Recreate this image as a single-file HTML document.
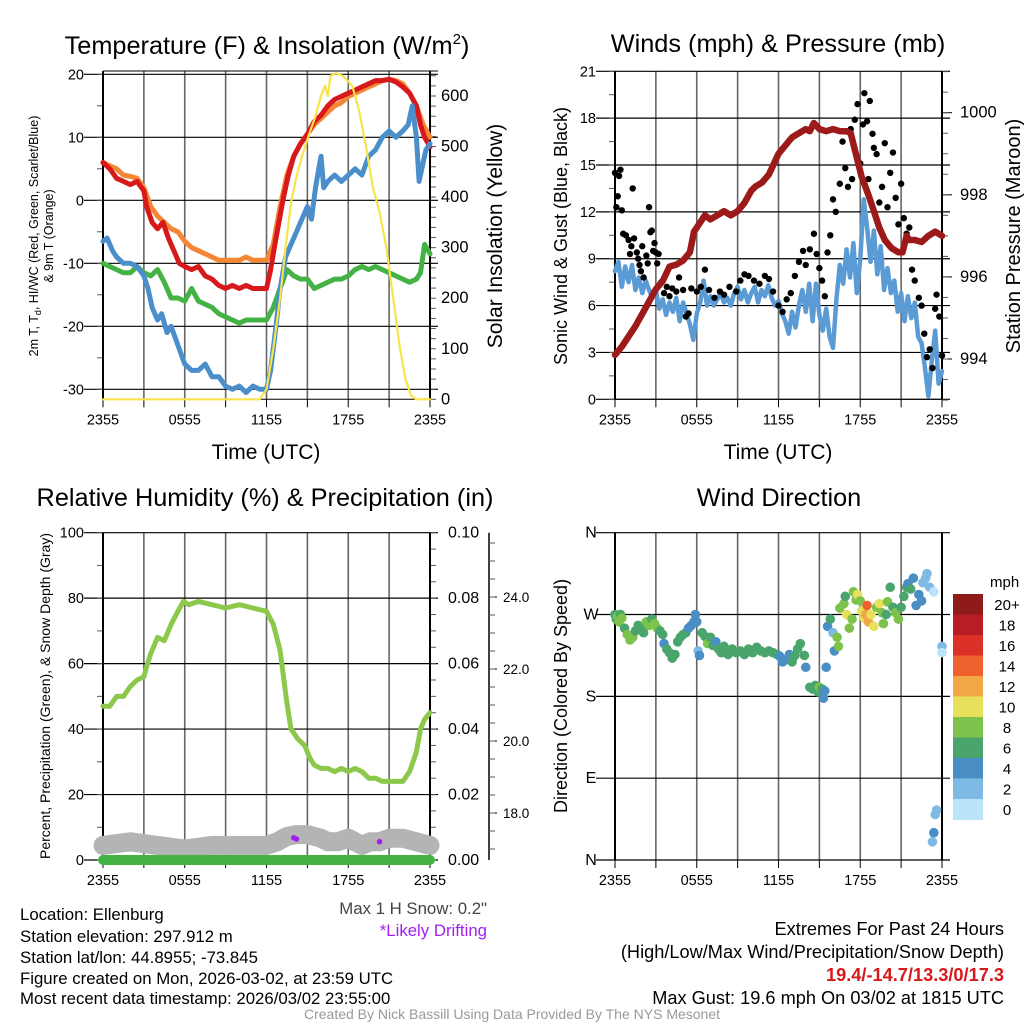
<!DOCTYPE html>
<html><head><meta charset="utf-8"><style>
html,body{margin:0;padding:0;background:#fff;}
svg{display:block;font-family:"Liberation Sans",Arial,sans-serif;}
</style></head><body>
<svg id="fig" width="1024" height="1024" viewBox="0 0 1024 1024" xmlns="http://www.w3.org/2000/svg">
<text x="267" y="54" font-size="25.3" text-anchor="middle">Temperature (F) &amp; Insolation (W/m<tspan font-size="15" dy="-10">2</tspan><tspan dy="10">)</tspan></text>
<text x="778" y="52" font-size="25.3" text-anchor="middle">Winds (mph) &amp; Pressure (mb)</text>
<text x="265" y="506" font-size="25.3" text-anchor="middle">Relative Humidity (%) &amp; Precipitation (in)</text>
<text x="779" y="506" font-size="25.3" text-anchor="middle">Wind Direction</text>
<text x="266" y="459" font-size="21" text-anchor="middle">Time (UTC)</text>
<text x="778" y="459" font-size="21" text-anchor="middle">Time (UTC)</text>
<text transform="translate(38,236) rotate(-90)" font-size="12.5" text-anchor="middle"><tspan x="0" dy="0">2m T, T<tspan font-size="9" dy="3">d</tspan><tspan dy="-3">, HI/WC (Red, Green, Scarlet/Blue)</tspan></tspan><tspan x="0" dy="15">&amp; 9m T (Orange)</tspan></text>
<text transform="translate(502,236) rotate(-90)" font-size="21" text-anchor="middle">Solar Insolation (Yellow)</text>
<text transform="translate(567,236) rotate(-90)" font-size="18" text-anchor="middle">Sonic Wind &amp; Gust (Blue, Black)</text>
<text transform="translate(1020,236) rotate(-90)" font-size="20" text-anchor="middle">Station Pressure (Maroon)</text>
<text transform="translate(50,696) rotate(-90)" font-size="14" text-anchor="middle">Percent, Precipitation (Green), &amp; Snow Depth (Gray)</text>
<text transform="translate(567,696) rotate(-90)" font-size="18" text-anchor="middle">Direction (Colored By Speed)</text>
<g font-size="16.8">
<text x="20" y="920">Location: Ellenburg</text>
<text x="20" y="942">Station elevation: 297.912 m</text>
<text x="20" y="963">Station lat/lon: 44.8955; -73.845</text>
<text x="20" y="984">Figure created on Mon, 2026-03-02, at 23:59 UTC</text>
<text x="20" y="1004">Most recent data timestamp: 2026/03/02 23:55:00</text>
</g>
<text x="487" y="914" font-size="16.8" fill="#444" text-anchor="end">Max 1 H Snow: 0.2"</text>
<text x="487" y="936" font-size="16.8" fill="#a020f0" text-anchor="end">*Likely Drifting</text>
<g font-size="18.2" text-anchor="end">
<text x="1004" y="935">Extremes For Past 24 Hours</text>
<text x="1004" y="958">(High/Low/Max Wind/Precipitation/Snow Depth)</text>
<text x="1004" y="981" fill="#d7191c" font-weight="bold">19.4/-14.7/13.3/0/17.3</text>
<text x="1004" y="1004">Max Gust: 19.6 mph On 03/02 at 1815 UTC</text>
</g>
<text x="512" y="1019" font-size="14" fill="#999" text-anchor="middle">Created By Nick Bassill Using Data Provided By The NYS Mesonet</text>
</svg>
<script>
// ---------- data ----------
const xTickLabels = ["2355","0555","1155","1755","2355"];
const tempRedH = [0,0.5,1,1.5,2,2.5,3,3.2,3.6,4,4.4,4.8,5.2,5.6,6,6.5,7,7.5,8,8.5,9,9.5,10,10.5,11,11.5,12,12.3,12.7,13.2,13.6,14,14.5,15,15.5,16,16.5,17,17.5,18,18.5,19,19.5,20,20.5,21,21.5,22,22.5,23,23.3,23.6,24];
const tempRed = [6,5,3.5,3,2.5,3,1.5,-1,-3.5,-4.5,-3.5,-6,-8,-10,-10.5,-11,-10.5,-12,-12.5,-13.5,-14,-13.5,-14,-13.5,-14,-14,-14,-11,-6,0,4,7,9,10.5,12.5,13.5,15,16,16.5,17,17.5,18,18.5,19,19,19.2,18.8,18,17,15,12,10,8.5];
const tempOrangeH = [0,0.5,1,1.5,2,2.5,3,3.5,4,4.5,5,5.5,6,6.5,7,7.5,8,8.5,9,9.5,10,10.5,11,11.5,12,12.5,13,13.5,14,14.5,15,15.5,16,16.5,17,17.5,18,18.5,19,19.5,20,20.5,21,21.5,22,22.5,23,23.5,24];
const tempOrange = [6,5.5,5,4,3.8,3.5,2,-1,-2.5,-3.5,-4.5,-5,-6.5,-7.5,-8,-8.5,-9,-9.5,-9.5,-9.5,-9.5,-9,-9.5,-9.5,-9.5,-7,-1,4,7,9,10.5,12,13,14,15,15.5,16.5,17,17.5,18,18.5,19,19.2,19,18.5,17,15,12,10];
const dewH = [0,0.5,1,1.5,2,2.5,3,3.5,4,4.5,5,5.5,6,6.5,7,7.5,8,8.5,9,9.5,10,10.5,11,11.5,12,12.5,13,13.5,14,14.5,15,15.5,16,16.5,17,17.5,18,18.5,19,19.5,20,20.5,21,21.5,22,22.5,23,23.3,23.6,24];
const dewPt = [-10,-10.5,-11,-11.5,-11.5,-10.5,-11.5,-12,-11,-13,-15.5,-15.5,-16,-14,-16,-16.5,-17,-18,-18.5,-19,-19.5,-19,-19,-19,-19,-17,-14,-11,-12,-12.5,-12.5,-14,-13.5,-13,-12.5,-12.5,-12,-11,-10.5,-11,-10.5,-11,-11.5,-12,-12.5,-13,-12.5,-11.5,-7,-8.5];
const windChillH = [0,0.3,0.7,1,1.5,2,2.5,3,3.3,3.6,4,4.3,4.7,5,5.5,6,6.5,7,7.5,8,8.5,9,9.5,10,10.5,11,11.5,12,12.3,12.7,13,13.4,13.8,14.2,14.6,15,15.3,15.6,16,16.2,16.5,17,17.5,18,18.5,19,19.5,20,20.5,21,21.5,22,22.4,22.7,23,23.2,23.4,23.7,24];
const windChill = [-6.5,-6,-8,-9,-10,-10,-10.5,-12,-14,-17,-19,-18,-21,-20,-23,-26,-27,-27,-26,-28,-28,-29.5,-30,-29.5,-30.5,-29.5,-30,-30,-27,-20,-14,-9,-7,-5,-3,-1,-3,2,7,2,3,4,3,4,5,4,7,8,10,11,10,11,12,15,10,3,5,8,9];
const solarH = [0,11.5,12,12.5,13,13.4,13.8,14.2,14.6,15.2,15.6,16,16.3,16.5,16.7,17.1,17.6,18.3,18.8,19.3,19.8,20.3,20.8,21.3,21.8,22.2,22.6,23,24];
const solar = [0,0,20,100,200,300,390,440,480,530,560,600,620,600,640,645,640,620,570,500,420,370,300,200,100,40,8,0,0];
const windH = [0,0.25,0.5,0.75,1,1.25,1.5,1.75,2,2.25,2.5,2.75,3,3.25,3.5,3.75,4,4.25,4.5,4.75,5,5.25,5.5,5.75,6,6.25,6.5,6.75,7,7.25,7.5,7.75,8,8.25,8.5,8.75,9,9.25,9.5,9.75,10,10.25,10.5,10.75,11,11.25,11.5,11.75,12,12.25,12.5,12.75,13,13.25,13.5,13.75,14,14.25,14.5,14.75,15,15.25,15.5,15.75,16,16.25,16.5,16.75,17,17.25,17.5,17.75,18,18.25,18.5,18.75,19,19.25,19.5,19.75,20,20.25,20.5,20.75,21,21.25,21.5,21.75,22,22.25,22.5,22.75,23,23.25,23.5,23.75,24];
const windSpd = [8.2,8.8,7.2,8.5,7.5,8.6,7.0,7.8,6.8,7.6,7.0,6.5,7.0,5.8,6.4,5.4,6.2,5.6,6.5,5.0,6.2,5.5,4.8,3.8,5.5,6.2,7.6,6.0,6.6,6.0,6.4,6.8,6.2,6.5,6.0,6.8,7.2,6.4,7.0,6.2,6.8,7.2,6.2,7.0,6.6,7.3,6.5,6.0,6.3,5.5,5.0,4.2,5.6,4.6,6.0,7.0,5.6,7.4,5.0,7.4,5.4,4.4,5.8,4.0,3.3,6.4,8.6,7.4,9.6,7.8,10.0,6.8,9.0,12.8,11.0,8.8,10.8,8.0,9.8,7.0,8.4,6.8,7.6,5.6,6.8,5.0,6.6,5.2,6.2,4.0,3.6,2.0,0.2,2.5,4.4,1.0,1.8];
const gustH = [0,0.1,0.2,0.3,0.4,0.5,0.6,0.8,1.0,1.1,1.2,1.3,1.4,1.6,1.7,1.8,1.9,2.0,2.1,2.3,2.4,2.5,2.6,2.7,2.8,2.9,3.0,3.1,3.2,3.4,3.6,3.8,4.0,4.2,4.5,4.7,5.0,5.2,5.4,5.6,6.0,6.3,6.6,6.9,7.3,7.7,8.0,8.4,8.9,9.2,9.5,9.8,10.2,10.6,11.0,11.3,11.6,12.0,12.3,12.6,12.9,13.2,13.5,13.8,14.0,14.3,14.6,14.8,15.0,15.2,15.4,15.6,15.8,16.0,16.2,16.5,16.7,16.9,17.1,17.3,17.4,17.6,17.8,18.0,18.2,18.3,18.5,18.6,18.7,18.9,19.0,19.2,19.4,19.6,19.8,20.0,20.2,20.4,20.6,20.8,21.0,21.2,21.4,21.6,21.8,22.0,22.3,22.5,22.7,22.9,23.1,23.3,23.5,23.6,23.8,24.0];
const gustSpd = [14.5,12.3,13,14.3,14.7,12.1,10.6,10.5,10.2,9.3,9.8,13.5,10.3,9.4,9.0,8.6,8.2,9.8,7.8,9.2,8.7,12.3,10.7,10.8,9.5,10.0,9.4,8.7,9.3,7.5,6.8,7.2,6.6,7.1,6.9,7.8,7.0,5.3,5.5,7.1,6.9,7.2,8.3,7.0,6.5,6.9,6.7,7.2,6.9,7.6,8.0,7.9,7.6,7.4,7.9,7.7,6.9,6.0,5.6,6.4,6.8,7.9,8.8,9.5,8.6,9.6,10.6,9.3,8.4,7.6,6.6,9.4,10.5,12.8,12.0,13.8,16.5,14.8,13.6,17.3,14.1,17.9,18.9,15.1,17.6,19.6,17.8,14.1,19.1,17.0,16.1,15.7,12.6,13.6,16.4,12.3,14.5,15.8,12.9,11.2,13.8,11.6,10.6,11.0,8.3,7.6,6.5,6.0,4.2,2.7,3.2,2.0,5.8,6.7,5.3,2.8];
const presH = [0,0.5,1,1.5,2,2.5,3,3.5,4,4.5,5,5.5,5.8,6.2,6.6,7,7.5,8,8.5,9,9.5,10,10.3,10.8,11.3,12,12.5,13,13.5,14,14.3,14.6,15,15.5,16,16.5,17,17.3,17.6,18.1,18.6,19,19.4,19.8,20.3,20.8,21.1,21.4,21.6,22,22.5,23,23.5,24];
const pressure = [994.1,994.3,994.55,994.8,995.1,995.4,995.7,995.9,996.25,996.3,996.4,996.6,997.1,997.3,997.5,997.4,997.5,997.6,997.5,997.6,997.8,998.1,998.2,998.3,998.5,999.0,999.2,999.4,999.5,999.6,999.55,999.75,999.6,999.55,999.6,999.55,999.55,999.5,999.1,998.44,998.0,997.6,997.2,996.9,996.7,996.6,996.6,997.0,996.9,996.9,996.85,997.0,997.1,997.0];
const rhH = [0,0.5,1,1.5,2,2.5,3,3.2,3.5,4,4.5,5,5.5,5.9,6.3,7,8,9,10,11,12,12.5,13,13.5,13.8,14.3,14.8,15.2,15.5,16,16.5,17,17.5,18,18.5,19,19.5,20,20.5,21,21.5,22,22.5,23,23.3,23.6,24];
const rh = [47,47,50,50,53,55,56,59,63,68,67,72,76,79,78,79,78,77,78,77,76,72,64,48,40,37,35,31,29,28,28,27,28,27,28,27,25,25,24,24,24,24,27,33,40,43,45];
const snowH = [0,2,4,6,8,10,12,12.8,13.5,14.2,15,16,16.5,17.2,18,18.5,19,19.6,20.3,21,22,23,24];
const snowDepth = [17.1,17.2,17.1,17.0,17.1,17.1,17.1,17.2,17.35,17.4,17.4,17.3,17.2,17.2,17.3,17.2,17.1,17.2,17.2,17.3,17.3,17.2,17.1];
const precipH = [0,24];
const precip = [0,0];
const driftH = [14.0,14.2,20.3];
const driftVal = [0.0068,0.0064,0.0056];
const dirH = [0,0.1,0.2,0.3,0.4,0.5,0.7,0.9,1.1,1.3,1.5,1.7,1.9,2.1,2.3,2.5,2.7,2.9,3.1,3.3,3.5,3.6,3.8,4.0,4.2,4.4,4.6,4.8,5.0,5.2,5.4,5.6,5.8,5.9,6.0,6.1,6.2,6.4,6.6,6.8,7.0,7.2,7.4,7.6,7.8,8.0,8.3,8.6,8.9,9.2,9.5,9.8,10.1,10.4,10.7,11.0,11.3,11.6,11.9,12.1,12.3,12.5,12.8,13.0,13.2,13.4,13.6,13.9,14.0,14.3,14.5,14.7,14.9,15.0,15.2,15.3,15.4,15.5,15.6,15.8,16.0,16.1,16.3,16.4,16.5,16.8,16.9,17.0,17.2,17.4,17.5,17.7,17.8,18.0,18.1,18.3,18.4,18.5,18.6,18.8,19.0,19.2,19.4,19.6,19.7,19.9,20.0,20.2,20.4,20.6,20.8,21.0,21.2,21.4,21.5,21.7,21.9,22.1,22.3,22.5,22.6,22.8,22.9,23.1,23.4,23.3,23.4,23.5,23.6,24,24];
const dirDeg = [270,265,268,262,270,266,255,248,242,245,252,258,255,250,262,258,265,260,255,252,248,238,232,228,222,226,240,245,248,250,255,258,262,270,262,230,225,250,246,238,245,236,240,232,228,235,226,232,228,230,226,232,228,234,230,228,230,228,226,224,218,220,226,218,225,232,238,225,212,190,188,192,185,190,188,178,186,212,257,265,250,230,245,235,277,282,290,270,255,265,295,286,292,285,274,266,270,280,262,270,257,278,282,272,260,270,284,300,278,272,265,278,290,300,304,298,310,280,292,285,305,310,315,300,295,20,30,50,55,235,228];
const dirSpd = [6,6,8,8,6,8,6,8,8,8,6,6,6,6,8,8,6,8,8,6,6,4,6,6,6,6,6,6,6,6,4,4,4,4,4,2,4,6,6,8,6,6,4,6,6,6,6,6,6,6,6,6,6,6,6,6,6,6,6,4,4,4,4,6,6,6,6,6,4,6,6,6,6,8,6,4,4,4,4,6,2,4,8,8,8,8,6,10,8,8,8,8,10,8,10,10,12,14,12,10,10,8,10,8,8,6,8,6,6,8,8,6,6,6,4,6,4,4,4,4,2,2,2,2,0,2,4,2,2,2,0];
const speedBins = ["0","2","4","6","8","10","12","14","16","18","20+"];
const speedColors = ["#bce4f8","#7fbae4","#4a8ec6","#49a56c","#7dc24a","#e6e05a","#f4a746","#ef622d","#db3129","#b81d25","#8e1a1a"];
const tempTicks = [-30,-20,-10,0,10,20];
const solarTicks = [0,100,200,300,400,500,600];
const windTicks = [0,3,6,9,12,15,18,21];
const presTicks = [994,996,998,1000];
const rhTicks = [0,20,40,60,80,100];
const precipTicks = ["0.00","0.02","0.04","0.06","0.08","0.10"];
const snowTicks = ["18.0","20.0","22.0","24.0"];
const dirTicks = ["N","E","S","W","N"];

// ---------- helpers ----------
const NS = "http://www.w3.org/2000/svg";
const svg = document.getElementById("fig");
function mk(tag, attrs, parent) {
  const e = document.createElementNS(NS, tag);
  for (const k in attrs) e.setAttribute(k, attrs[k]);
  (parent || svg).appendChild(e);
  return e;
}
function lin(d0, d1, r0, r1) { return v => r0 + (v - d0) * (r1 - r0) / (d1 - d0); }
function pathD(xs, ys, fx, fy) { return xs.map((h, i) => (i ? "L" : "M") + fx(h).toFixed(1) + "," + fy(ys[i]).toFixed(1)).join(""); }
function binColor(s) { return speedColors[Math.min(10, Math.max(0, Math.round(s / 2)))]; }

function panelFrame(name, L, R, T, B, fx) {
  const g = mk("g", {});
  
  
  for (let h = 3; h < 24; h += 3) {
    const gl = mk("line", {x1: fx(h), x2: fx(h), y1: T, y2: B, stroke: "#666", "stroke-width": 1.6}, g);
    
    
  }
  for (let h = 0; h <= 24; h += 3) {
    const tk = mk("line", {x1: fx(h), x2: fx(h), y1: B, y2: B + 8, stroke: "#000", "stroke-width": 1}, g);
    
    
  }
  xTickLabels.forEach((lab, i) => {
    const t = mk("text", {x: fx(i * 6), y: B + 25, "font-size": 14.5, "text-anchor": "middle"}, g);
    t.textContent = lab;
    
    
  });
  return g;
}
function hLines(g, vals, fy, L, R) {
  vals.forEach(v => {
    const l = mk("line", {x1: L - 19, x2: R + 8, y1: fy(v), y2: fy(v), stroke: "#000", "stroke-width": 1.2}, g);
    
    
  });
}
function axisLabels(g, vals, labels, fy, x, anchor, size) {
  vals.forEach((v, i) => {
    const t = mk("text", {x: x, y: fy(v) + 5, "font-size": size || 14.5, "text-anchor": anchor}, g);
    t.textContent = labels[i];
    
    
  });
}
function minorTicks(g, from, to, step, fy, x, dir) {
  for (let v = from; v <= to + 1e-9; v += step) {
    const l = mk("line", {x1: x, x2: x + dir * 6, y1: fy(v), y2: fy(v), stroke: "#555", "stroke-width": 1}, g);
    
    
  }
}
function box(g, L, R, T, B) {
  const a = mk("line", {x1: L, x2: L, y1: T, y2: B, stroke: "#000", "stroke-width": 2}, g);
  
  
  const b = mk("line", {x1: R, x2: R, y1: T, y2: B, stroke: "#000", "stroke-width": 2}, g);
  
  
  const c = mk("line", {x1: L, x2: R, y1: B, y2: B, stroke: "#000", "stroke-width": 1}, g);
  
  
}
function series(d, color, w, name) {
  const p = mk("path", {d: d, fill: "none", stroke: color, "stroke-width": w, "stroke-linejoin": "round", "stroke-linecap": "round"});
  
  
  return p;
}

// ---------- panel 1: temperature ----------
{
  const L = 103, R = 430, T = 71, B = 399.3;
  const fx = lin(0, 24, L, R);
  const fy = lin(0, -30, 200.3, 389.3);
  const fs = lin(0, 600, 399.3, 96);
  const g = panelFrame("temperature", L, R, T, B, fx);
  hLines(g, tempTicks, fy, L, R);
  const top = mk("line", {x1: L, x2: R + 8, y1: T, y2: T, stroke: "#000", "stroke-width": 1}, g);
  
  
  axisLabels(g, tempTicks, tempTicks.map(String), fy, 84, "end");
  minorTicks(g, -30, 20, 5, fy, L, -1);
  axisLabels(g, solarTicks, solarTicks.map(String), fs, 441, "start", 16.5);
  minorTicks(g, 0, 640, 20, fs, R, 1);
  box(g, L, R, T, B);
  series(pathD(tempOrangeH, tempOrange, fx, fy), "#f58634", 5, "nine-m-temp-line");
  series(pathD(tempRedH, tempRed, fx, fy), "#d7191c", 5, "two-m-temp-line");
  series(pathD(dewH, dewPt, fx, fy), "#45b245", 5, "dewpoint-line");
  series(pathD(windChillH, windChill, fx, fy), "#4a8fcc", 5, "wind-chill-line");
  series(pathD(solarH, solar, fx, fs), "#f7e34b", 2.2, "solar-insolation-line");
}

// ---------- panel 2: winds ----------
{
  const L = 615, R = 942, T = 71.3, B = 399.3;
  const fx = lin(0, 24, L, R);
  const fy = lin(0, 21, 399.3, 71.3);
  const fp = lin(994, 1000, 359, 112.7);
  const g = panelFrame("winds", L, R, T, B, fx);
  hLines(g, windTicks, fy, L, R);
  axisLabels(g, windTicks, windTicks.map(String), fy, 596, "end");
  minorTicks(g, 0, 21, 1.5, fy, L, -1);
  axisLabels(g, presTicks, presTicks.map(String), fp, 960, "start", 16.5);
  presTicks.forEach(v => {
    const l = mk("line", {x1: R, x2: R + 10, y1: fp(v), y2: fp(v), stroke: "#000", "stroke-width": 1}, g);
    
    
  });
  minorTicks(g, 993, 1001, 0.5, fp, R, 1);
  box(g, L, R, T, B);
  series(pathD(windH, windSpd, fx, fy), "#5a9bd5", 4.5, "sonic-wind-line");
  const gg = mk("g", {});
  
  
  gustH.forEach((h, i) => {
    const c = mk("circle", {cx: fx(h), cy: fy(gustSpd[i]), r: 3.2, fill: "#000"}, gg);
    
    
  });
  series(pathD(presH, pressure, fx, fp), "#9c1a1a", 6.5, "pressure-line");
}

// ---------- panel 3: humidity ----------
{
  const L = 103, R = 430, T = 532.7, B = 860;
  const fx = lin(0, 24, L, R);
  const fy = lin(0, 100, 860, 532.7);
  const fpr = lin(0, 0.1, 860, 532.7);
  const fsn = lin(18, 24, 813, 597);
  const g = panelFrame("humidity", L, R, T, B, fx);
  hLines(g, rhTicks, fy, L, R);
  axisLabels(g, rhTicks, rhTicks.map(String), fy, 84, "end");
  minorTicks(g, 0, 100, 10, fy, L, -1);
  axisLabels(g, [0, 0.02, 0.04, 0.06, 0.08, 0.1], precipTicks, fpr, 448, "start", 16);
  minorTicks(g, 0, 0.1, 0.005, fpr, R, 1);
  const sa = mk("line", {x1: 489, x2: 489, y1: 532.7, y2: 860, stroke: "#000", "stroke-width": 1.5}, g);
  
  
  axisLabels(g, [18, 20, 22, 24], snowTicks, fsn, 503, "start", 13.5);
  [18, 20, 22, 24].forEach(v => {
    const l = mk("line", {x1: 489, x2: 497, y1: fsn(v), y2: fsn(v), stroke: "#000", "stroke-width": 1}, g);
    
    
  });
  minorTicks(g, 17, 25.5, 0.5, fsn, 489, 1);
  box(g, L, R, T, B);
  series(pathD(snowH, snowDepth, fx, fsn), "#b4b4b4", 19, "snow-depth-line");
  series(pathD(precipH, precip, fx, fpr), "#45b245", 10, "precipitation-line");
  series(pathD(rhH, rh, fx, fy), "#8cc84b", 5, "relative-humidity-line");
  driftH.forEach((h, i) => {
    const c = mk("circle", {cx: fx(h), cy: fpr(driftVal[i]), r: 2.8, fill: "#a020f0"});
    
    
  });
}

// ---------- panel 4: wind direction ----------
{
  const L = 615, R = 942, T = 532.7, B = 860;
  const fx = lin(0, 24, L, R);
  const fy = lin(0, 360, 860, 532.7);
  const g = panelFrame("direction", L, R, T, B, fx);
  const dVals = [0, 90, 180, 270, 360];
  hLines(g, dVals, fy, L, R);
  axisLabels(g, dVals, dirTicks, fy, 591, "middle", 16);
  box(g, L, R, T, B);
  const dg = mk("g", {});
  
  
  dirH.forEach((h, i) => {
    const c = mk("circle", {cx: fx(h), cy: fy(dirDeg[i]), r: 4.8, fill: binColor(dirSpd[i])}, dg);
    
    
  });
  const cb = mk("g", {});
  
  
  const cbTop = 594, cbH = 20.5;
  const mph = mk("text", {x: 990, y: 587, "font-size": 15}, cb);
  mph.textContent = "mph";
  
  
  speedBins.forEach((lab, i) => {
    const k = 10 - i;
    const r = mk("rect", {x: 953, y: cbTop + i * cbH, width: 30, height: cbH + 0.5, fill: speedColors[k]}, cb);
    
    
    const t = mk("text", {x: 1007, y: cbTop + i * cbH + 16, "font-size": 15, "text-anchor": "middle"}, cb);
    t.textContent = speedBins[k];
    
    
  });
}
</script>
</body></html>
